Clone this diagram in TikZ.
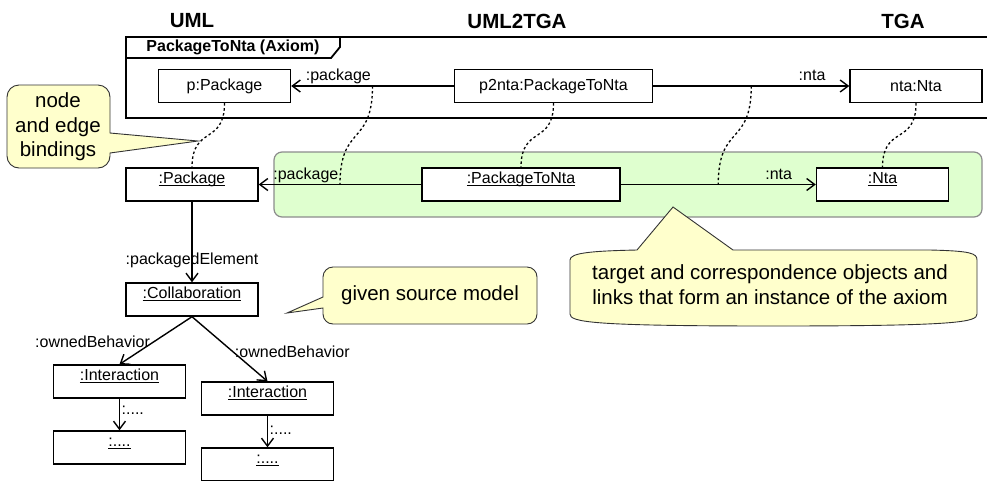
\documentclass[tikz,border=0pt]{standalone}
\usepackage{fontspec}
\setmainfont{Liberation Sans}
\usetikzlibrary{arrows.meta}
\definecolor{notefill}{RGB}{255,255,204}
\definecolor{matchfill}{RGB}{223,255,207}
\definecolor{matchdraw}{RGB}{140,140,140}
\def\inst#1{\underline{\smash{#1}}}
\tikzset{
	obj/.style={draw, line width=1.4pt, fill=white, minimum width=132pt, minimum height=33pt, inner sep=0pt, font=\fontsize{16}{19}\selectfont},
	wideobj/.style={obj, minimum width=198pt},
	link/.style={line width=1.4pt, -{Straight Barb[length=8pt,width=12pt]}},
	role/.style={font=\fontsize{16}{19}\selectfont, inner sep=1.5pt, text depth=3pt},
	binding/.style={line width=1.3pt, dash pattern=on 2.5pt off 2.5pt},
	note/.style={draw=black!80, line width=0.9pt, fill=notefill},
	notetext/.style={font=\fontsize{20.5}{24.5}\selectfont, align=center},
	title/.style={font=\fontsize{20.5}{24}\selectfont\bfseries}
}

\begin{document}
\begin{tikzpicture}[x=1pt,y=1pt]
	%%%%% START %%%%%
	\useasboundingbox (0,0) rectangle (987,-480);
	\clip (0,0) rectangle (987,-480);
	
	\node[title] (uml) at (192,-21) {UML};
	\node[title] (uml2tga) at (517,-21) {UML2TGA};
	\node[title] (tga) at (903,-21) {TGA};
	
	%%%%% AXIOM %%%%%
	\draw[line width=1.8pt] (126,-37) rectangle (1000,-118);
	\draw[line width=1.8pt] (126,-58) -- (331,-58) -- (340,-47) -- (340,-37);
	\node[font=\fontsize{16}{19}\selectfont\bfseries] (axiom) at (233,-47.5) {PackageToNta (Axiom)};
	
	\node[obj] (p) at (224.5,-86) {p:Package};
	\node[wideobj] (p2nta) at (553.5,-86) {p2nta:PackageToNta};
	\node[obj] (nta) at (916,-86) {nta:Nta};
	\draw[link] (p2nta) -- coordinate[pos=.5] (e1) node[role, above, pos=.71] (l1) {:package} (p);
	\draw[link] (p2nta) -- coordinate[pos=.5] (e2) node[role, above, pos=.81] (l2) {:nta} (nta);
	
	%%%%% INSTANCE %%%%%
	\draw[matchdraw, fill=matchfill, line width=1.2pt, rounded corners=8pt] (274,-152) rectangle (982,-217);
	
	\node[obj] (pkg) at (192,-184.5) {\inst{:Package}};
	\node[wideobj] (p2n) at (521,-184.5) {\inst{:PackageToNta}};
	\node[obj] (nt) at (882.5,-184.5) {\inst{:Nta}};
	\draw[link] (p2n) -- coordinate[pos=.5] (e3) node[role, above, pos=.71] (l3) {:package} (pkg);
	\draw[link] (p2n) -- coordinate[pos=.5] (e4) node[role, above, pos=.81] (l4) {:nta} (nt);
	
	\node[obj] (collab) at (192,-299.5) {\inst{:Collaboration}};
	\node[obj] (int1) at (119.5,-381.5) {\inst{:Interaction}};
	\node[obj] (int2) at (267.5,-398.5) {\inst{:Interaction}};
	\node[obj] (more1) at (119.5,-447.5) {\inst{:....}};
	\node[obj] (more2) at (267.5,-464.5) {\inst{:....}};
	\draw[link] (pkg) -- node[role, pos=.72] (l5) {:packagedElement} (collab);
	\draw[link] (collab.south) -- node[role, left, pos=.55] (l6) {:ownedBehavior} (int1.north);
	\draw[link] (collab.south) -- node[role, right, pos=.56, inner sep=0pt] (l7) {:ownedBehavior} (int2.north);
	\draw[link] (int1) -- node[role, right, pos=.42] (l8) {:....} (more1);
	\draw[link] (int2) -- node[role, right, pos=.52] (l9) {:....} (more2);
	
	%%%%% BINDINGS %%%%%
	\draw[binding] (p.south) to[out=-90, in=90, looseness=1.5] (pkg.north);
	\draw[binding] (e1) to[out=-90, in=90, looseness=1.5] (e3);
	\draw[binding] (p2nta.south) to[out=-90, in=90, looseness=1.5] (p2n.north);
	\draw[binding] (e2) to[out=-90, in=90, looseness=1.5] (e4);
	\draw[binding] (nta.south) to[out=-90, in=90, looseness=1.5] (nt.north);
	
	%%%%% NOTES %%%%%
	\draw[note] (19,-85) -- (98,-85) arc[start angle=90, end angle=0, radius=12] -- (110,-133) -- (198,-141) -- (110,-153) -- (110,-156) arc[start angle=0, end angle=-90, radius=12] -- (19,-168) arc[start angle=-90, end angle=-180, radius=12] -- (7,-97) arc[start angle=180, end angle=90, radius=12] -- cycle;
	\node[notetext] (bindnote) at (58,-127) {node\\and edge\\bindings};
	
	\draw[note] (333,-267) -- (527,-267) arc[start angle=90, end angle=0, radius=10] -- (537,-314) arc[start angle=0, end angle=-90, radius=10] -- (333,-324) arc[start angle=-90, end angle=-180, radius=10] -- (323,-308) -- (287,-313) -- (323,-297) -- (323,-277) arc[start angle=180, end angle=90, radius=10] -- cycle;
	\node[notetext] (srcnote) at (430,-295) {given source model};
	
	\draw[note] (570,-260) .. controls (570,-253) and (590,-251) .. (637,-250) -- (673,-207) -- (733,-250) -- (930,-250) .. controls (970,-251) and (977,-253) .. (977,-260) -- (977,-314) .. controls (977,-322) and (960,-326) .. (773,-326) .. controls (590,-326) and (570,-322) .. (570,-314) -- cycle;
	\node[notetext] (axnote) at (770,-284.5) {target and correspondence objects and\\links that form an instance of the axiom};
	
	%%%%% END %%%%%
\end{tikzpicture}
\end{document}
